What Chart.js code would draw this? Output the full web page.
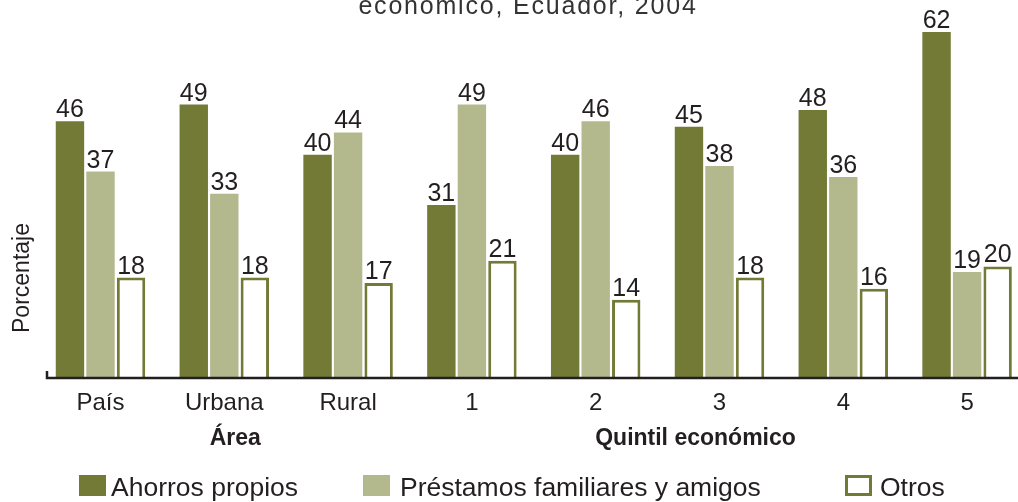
<!DOCTYPE html>
<html>
<head>
<meta charset="utf-8">
<script src="https://cdn.jsdelivr.net/npm/chart.js@4"></script>
<style>
  html, body { margin: 0; padding: 0; background: #fff; overflow: hidden; }
  #wrap { width: 1040px; height: 502px; }
</style>
</head>
<body>
<div id="wrap"><canvas id="c"></canvas></div>
<script>
const categories = ["País", "Urbana", "Rural", "1", "2", "3", "4", "5"];
const ahorros = [46, 49, 40, 31, 40, 45, 48, 62];
const prestamos = [37, 33, 44, 49, 46, 38, 36, 19];
const otros = [18, 18, 17, 21, 14, 18, 16, 20];
const seriesNames = ["Ahorros propios", "Préstamos familiares y amigos", "Otros"];

const DARK = "#737a36";
const LIGHT = "#b3b98d";
const FONT = "'Liberation Sans', Arial, sans-serif";

const extras = {
  id: "extras",
  afterDatasetsDraw(chart) {
    const ctx = chart.ctx;
    const area = chart.chartArea;
    const x = chart.scales.x;
    ctx.save();

    // value labels
    ctx.fillStyle = "#231f20";
    ctx.font = "25px " + FONT;
    ctx.textAlign = "center";
    ctx.textBaseline = "alphabetic";
    chart.data.datasets.forEach((ds, i) => {
      chart.getDatasetMeta(i).data.forEach((bar, j) => {
        ctx.fillText(ds.data[j], bar.x, bar.y - 4);
      });
    });

    // axis line
    ctx.strokeStyle = "#231f20";
    ctx.lineWidth = 2.5;
    ctx.beginPath();
    ctx.moveTo(47, area.bottom - 7);
    ctx.lineTo(47, area.bottom);
    ctx.lineTo(area.right + 20, area.bottom);
    ctx.stroke();

    // group labels
    ctx.font = "bold 23px " + FONT;
    ctx.textBaseline = "middle";
    ctx.fillText("Área", x.getPixelForValue(1) + 11, 439);
    ctx.fillText("Quintil económico", x.getPixelForValue(5) - 24, 439);

    // title (partly cut)
    ctx.fillStyle = "#333";
    ctx.font = "25px " + FONT;
    ctx.letterSpacing = "1.8px";
    ctx.textBaseline = "alphabetic";
    ctx.fillText("económico, Ecuador, 2004", 528, 14);
    ctx.letterSpacing = "0px";

    // y title
    ctx.fillStyle = "#231f20";
    ctx.font = "23px " + FONT;
    ctx.translate(23, 278);
    ctx.rotate(-Math.PI / 2);
    ctx.textBaseline = "middle";
    ctx.fillText("Porcentaje", 0, 0);
    ctx.setTransform(1, 0, 0, 1, 0, 0);

    // legend
    const leg = [
      { x: 79, tx: 111, fill: DARK, stroke: null },
      { x: 363, tx: 400, fill: LIGHT, stroke: null },
      { x: 845, tx: 880, fill: "#fff", stroke: DARK }
    ];
    ctx.font = "26.5px " + FONT;
    ctx.textAlign = "left";
    ctx.textBaseline = "alphabetic";
    leg.forEach((l, i) => {
      ctx.fillStyle = l.fill;
      ctx.fillRect(l.x, 475, 27, 21);
      if (l.stroke) {
        ctx.strokeStyle = l.stroke;
        ctx.lineWidth = 3;
        ctx.strokeRect(l.x + 1.5, 476.5, 24, 18);
      }
      ctx.fillStyle = "#231f20";
      ctx.fillText(seriesNames[i], l.tx, 496);
    });
    ctx.restore();
  }
};

new Chart(document.getElementById("c"), {
  type: "bar",
  data: {
    labels: categories,
    datasets: [
      { label: seriesNames[0], data: ahorros, backgroundColor: DARK },
      { label: seriesNames[1], data: prestamos, backgroundColor: LIGHT },
      { label: seriesNames[2], data: otros, backgroundColor: "#fff", borderColor: DARK, borderWidth: 3 }
    ]
  },
  options: {
    responsive: true,
    maintainAspectRatio: false,
    animation: false,
    events: [],
    layout: { padding: { left: 38.6, right: 11, top: 0, bottom: 0 } },
    datasets: { bar: { categoryPercentage: 0.74, barPercentage: 0.93 } },
    plugins: { legend: { display: false }, title: { display: false }, tooltip: { enabled: false } },
    scales: {
      x: {
        grid: { display: false, drawTicks: false },
        border: { display: false },
        ticks: { color: "#231f20", font: { family: FONT, size: 24 }, padding: 11, maxRotation: 0 },
        afterFit(s) { s.height = 124; }
      },
      y: {
        display: false,
        min: 0,
        max: 67.73
      }
    }
  },
  plugins: [extras]
});
</script>
</body>
</html>
